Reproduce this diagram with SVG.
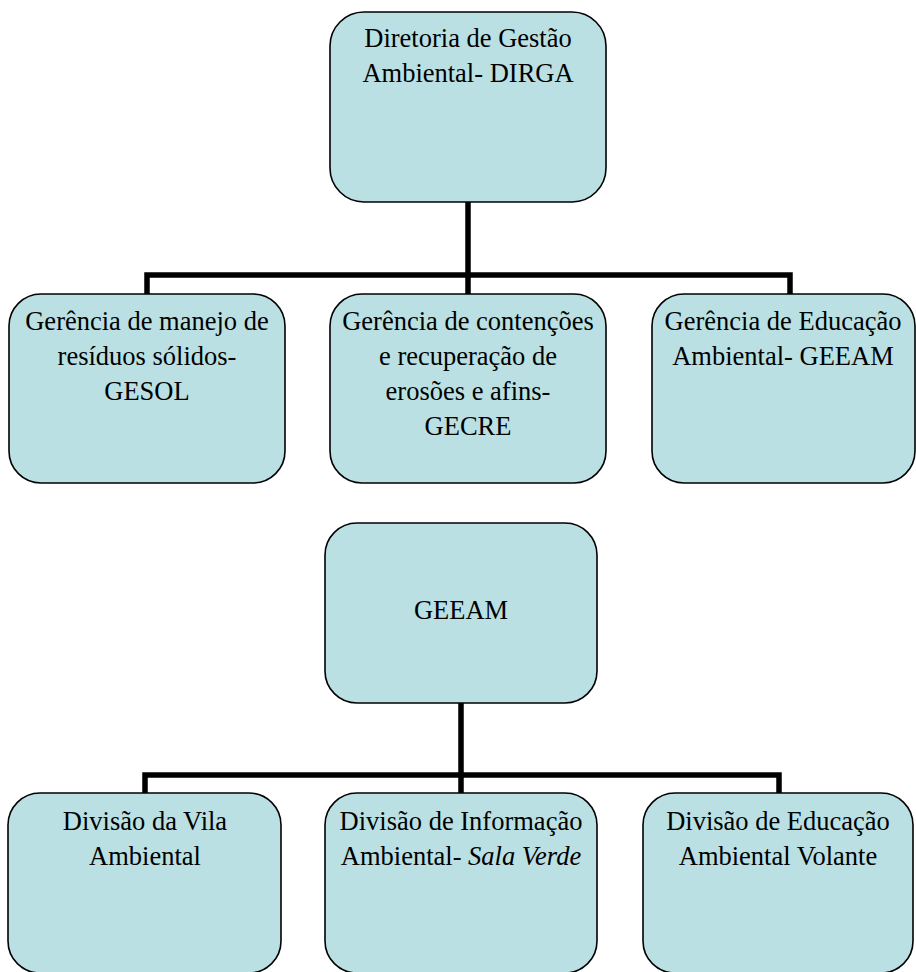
<svg xmlns="http://www.w3.org/2000/svg" width="916" height="972" viewBox="0 0 916 972">
<style>
.box{fill:#bae0e3;stroke:#000;stroke-width:1.6}
.lbl{fill:#000;text-anchor:middle;font-size:26.5px}
.con{fill:none;stroke:#000;stroke-width:5.5;stroke-linecap:butt;stroke-linejoin:miter}
</style>
<rect width="916" height="972" fill="#fff"/>
<g id="connectors">
<path class="con" d="M468 202 V275 M147 294 V275 H790 V294 M468 275 V294"/>
<path class="con" d="M461 703 V775 M145 793 V775 H779 V793 M461 775 V793"/>
</g>
<g id="dirga">
<rect class="box" x="330" y="12" width="276" height="190" rx="34"/>
<text class="lbl" font-family="serif" x="468" y="47">Diretoria de Gestão</text>
<text class="lbl" font-family="serif" x="468" y="82">Ambiental- DIRGA</text>
</g>
<g id="gesol">
<rect class="box" x="9" y="294" width="276" height="189" rx="32"/>
<text class="lbl" font-family="serif" x="147" y="330">Gerência de manejo de</text>
<text class="lbl" font-family="serif" x="147" y="365">resíduos sólidos-</text>
<text class="lbl" font-family="serif" x="147" y="400">GESOL</text>
</g>
<g id="gecre">
<rect class="box" x="330" y="294" width="276" height="189" rx="32"/>
<text class="lbl" font-family="serif" x="468" y="330">Gerência de contenções</text>
<text class="lbl" font-family="serif" x="468" y="365">e recuperação de</text>
<text class="lbl" font-family="serif" x="468" y="400">erosões e afins-</text>
<text class="lbl" font-family="serif" x="468" y="435">GECRE</text>
</g>
<g id="geeam-top">
<rect class="box" x="652" y="294" width="263" height="189" rx="32"/>
<text class="lbl" font-family="serif" x="783" y="330">Gerência de Educação</text>
<text class="lbl" font-family="serif" x="783" y="365">Ambiental- GEEAM</text>
</g>
<g id="geeam">
<rect class="box" x="325" y="523" width="272" height="180" rx="32"/>
<text class="lbl" font-family="serif" x="461" y="619">GEEAM</text>
</g>
<g id="vila">
<rect class="box" x="8" y="793" width="273" height="180" rx="32"/>
<text class="lbl" font-family="serif" x="145" y="830">Divisão da Vila</text>
<text class="lbl" font-family="serif" x="145" y="865">Ambiental</text>
</g>
<g id="informacao">
<rect class="box" x="325" y="793" width="272" height="180" rx="32"/>
<text class="lbl" font-family="serif" x="461" y="830">Divisão de Informação</text>
<text class="lbl" font-family="serif" x="461" y="865">Ambiental- <tspan font-style="italic">Sala Verde</tspan></text>
</g>
<g id="volante">
<rect class="box" x="643" y="793" width="270" height="180" rx="32"/>
<text class="lbl" font-family="serif" x="778" y="830">Divisão de Educação</text>
<text class="lbl" font-family="serif" x="778" y="865">Ambiental Volante</text>
</g>
</svg>
